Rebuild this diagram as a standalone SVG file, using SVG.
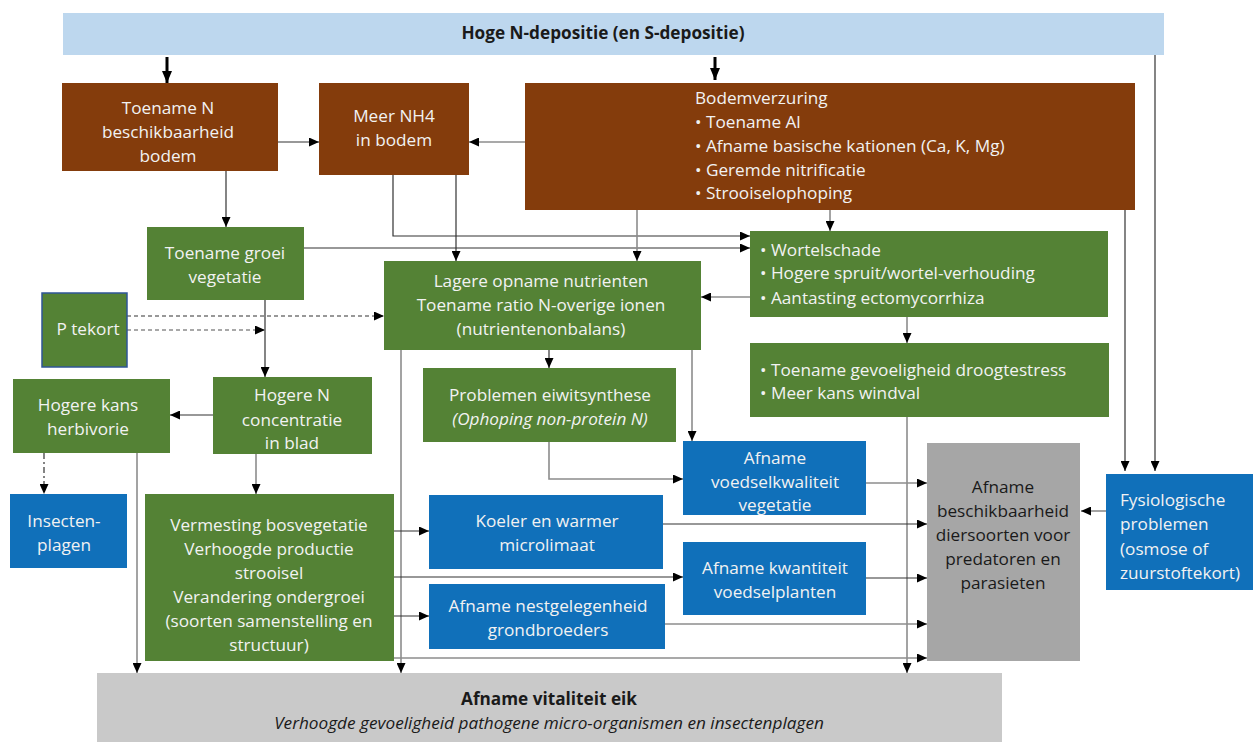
<svg xmlns="http://www.w3.org/2000/svg" width="1253" height="742" viewBox="0 0 1253 742">
<style>
text{font-family:"Open Sans","Noto Sans","Liberation Sans",sans-serif;font-size:17.2px}
.w{fill:#F2F2F2}
.d{fill:#1a1a1a}
.c{text-anchor:middle}
.b{font-weight:bold}
.i{font-style:italic}
.brown{fill:#843C0C}
.green{fill:#548235}
.blue{fill:#1070BA}
.k{fill:none;stroke:#333;stroke-width:1.2}
.g{fill:none;stroke:#8C8C8C;stroke-width:1.6}
.thick{fill:none;stroke:#000;stroke-width:3}
</style>
<defs>
<marker id="a" markerUnits="userSpaceOnUse" markerWidth="10" markerHeight="9" refX="10" refY="4.5" orient="auto"><path d="M0,0 L10,4.5 L0,9 z" fill="#000"/></marker>
<marker id="at" markerUnits="userSpaceOnUse" markerWidth="12" markerHeight="10" refX="12" refY="5" orient="auto"><path d="M0,0 L12,5 L0,10 z" fill="#000"/></marker>
</defs>
<rect width="1253" height="742" fill="#fff"/>

<g id="connectors">
<path class="thick" d="M167,57 V83" marker-end="url(#at)"/>
<path class="thick" d="M715,57 V80" marker-end="url(#at)"/>
<path class="k" d="M278,142 H319" marker-end="url(#a)"/>
<path class="g" d="M525,142 H469" marker-end="url(#a)"/>
<path class="k" d="M226,171 V227" marker-end="url(#a)"/>
<path class="k" d="M393,175 V236 H750" marker-end="url(#a)"/>
<path class="k" d="M456,175 V261" marker-end="url(#a)"/>
<path class="k" d="M304,248 H750" marker-end="url(#a)"/>
<path class="g" d="M637,210 V261" marker-end="url(#a)"/>
<path class="g" d="M830,210 V231" marker-end="url(#a)"/>
<path class="k" d="M1125,210 V471" marker-end="url(#a)"/>
<path class="k" d="M1155,55 V471" marker-end="url(#a)"/>
<path class="g" d="M750,297 H701" marker-end="url(#a)"/>
<path class="g" d="M907,317 V343" marker-end="url(#a)"/>
<path class="g" d="M907,417 V673" marker-end="url(#a)"/>
<path class="k" d="M127,316 H384" stroke-dasharray="4,3" marker-end="url(#a)"/>
<path class="g" d="M127,330 H265" stroke-dasharray="4,3" marker-end="url(#a)"/>
<path class="k" d="M265,300 V377" marker-end="url(#a)"/>
<path class="k" d="M213,415 H170" marker-end="url(#a)"/>
<path class="k" d="M44,453 V494" stroke-dasharray="6,3,2,3" marker-end="url(#a)"/>
<path class="g" d="M137,453 V673" marker-end="url(#a)"/>
<path class="g" d="M256,454 V494" marker-end="url(#a)"/>
<path class="g" d="M401,350 V673" marker-end="url(#a)"/>
<path class="k" d="M549,350 V368" marker-end="url(#a)"/>
<path class="g" d="M692,350 V441" marker-end="url(#a)"/>
<path class="g" d="M549,442 V479 H683" marker-end="url(#a)"/>
<path class="g" d="M866,483 H927" marker-end="url(#a)"/>
<path class="g" d="M1106,511 H1081" marker-end="url(#a)"/>
<path class="k" d="M394,531 H429" marker-end="url(#a)"/>
<path class="k" d="M663,524 H927" marker-end="url(#a)"/>
<path class="k" d="M394,577 H683" marker-end="url(#a)"/>
<path class="k" d="M866,578 H927" marker-end="url(#a)"/>
<path class="k" d="M394,616 H429" marker-end="url(#a)"/>
<path class="g" d="M665,624 H927" marker-end="url(#a)"/>
<path class="g" d="M394,658 H927" marker-end="url(#a)"/>
</g>

<g id="n-depositie">
<rect x="63" y="13" width="1101" height="42" fill="#BDD7EE"/>
<text class="d c b" x="603" y="39">Hoge N-depositie (en S-depositie)</text>
</g>

<g id="n-beschikbaarheid">
<rect class="brown" x="62" y="83" width="216" height="88"/>
<text class="w c" x="168" y="114">Toename N</text>
<text class="w c" x="168" y="138">beschikbaarheid</text>
<text class="w c" x="168" y="162">bodem</text>
</g>

<g id="nh4">
<rect class="brown" x="319" y="83" width="150" height="92"/>
<text class="w c" x="394" y="122">Meer NH4</text>
<text class="w c" x="394" y="146">in bodem</text>
</g>

<g id="bodemverzuring">
<rect class="brown" x="525" y="83" width="610" height="127"/>
<text class="w" x="695" y="104">Bodemverzuring</text>
<text class="w" x="695" y="128">• Toename Al</text>
<text class="w" x="695" y="152">• Afname basische kationen (Ca, K, Mg)</text>
<text class="w" x="695" y="176">• Geremde nitrificatie</text>
<text class="w" x="695" y="199">• Strooiselophoping</text>
</g>

<g id="groei">
<rect class="green" x="147" y="227" width="157" height="73"/>
<text class="w c" x="225" y="259">Toename groei</text>
<text class="w c" x="225" y="283">vegetatie</text>
</g>

<g id="lagere-opname">
<rect class="green" x="384" y="261" width="317" height="89"/>
<text class="w c" x="541" y="287">Lagere opname nutrienten</text>
<text class="w c" x="541" y="311">Toename ratio N-overige ionen</text>
<text class="w c" x="541" y="335">(nutrientenonbalans)</text>
</g>

<g id="wortelschade">
<rect class="green" x="750" y="231" width="358" height="86"/>
<text class="w" x="760" y="256">• Wortelschade</text>
<text class="w" x="760" y="279">• Hogere spruit/wortel-verhouding</text>
<text class="w" x="760" y="304">• Aantasting ectomycorrhiza</text>
</g>

<g id="droogtestress">
<rect class="green" x="750" y="343" width="359" height="74"/>
<text class="w" x="760" y="376">• Toename gevoeligheid droogtestress</text>
<text class="w" x="760" y="399">• Meer kans windval</text>
</g>

<g id="p-tekort">
<rect class="green" x="42" y="293" width="85" height="74" stroke="#2F5597" stroke-width="1.5"/>
<text class="w c" x="88" y="335">P tekort</text>
</g>

<g id="hogere-n">
<rect class="green" x="213" y="377" width="159" height="77"/>
<text class="w c" x="292" y="401">Hogere N</text>
<text class="w c" x="292" y="426">concentratie</text>
<text class="w c" x="292" y="449">in blad</text>
</g>

<g id="herbivorie">
<rect class="green" x="13" y="379" width="157" height="74"/>
<text class="w c" x="88" y="411">Hogere kans</text>
<text class="w c" x="88" y="435">herbivorie</text>
</g>

<g id="eiwitsynthese">
<rect class="green" x="423" y="368" width="253" height="74"/>
<text class="w c" x="550" y="401">Problemen eiwitsynthese</text>
<text class="w c i" x="550" y="425">(Ophoping non-protein N)</text>
</g>

<g id="insectenplagen">
<rect class="blue" x="10" y="494" width="117" height="74"/>
<text class="w c" x="64" y="527">Insecten-</text>
<text class="w c" x="64" y="551">plagen</text>
</g>

<g id="vermesting">
<rect class="green" x="145" y="494" width="249" height="167"/>
<text class="w c" x="269" y="531">Vermesting bosvegetatie</text>
<text class="w c" x="269" y="555">Verhoogde productie</text>
<text class="w c" x="269" y="579">strooisel</text>
<text class="w c" x="269" y="603">Verandering ondergroei</text>
<text class="w c" x="269" y="627">(soorten samenstelling en</text>
<text class="w c" x="269" y="651">structuur)</text>
</g>

<g id="voedselkwaliteit">
<rect class="blue" x="683" y="441" width="183" height="74"/>
<text class="w c" x="775" y="464">Afname</text>
<text class="w c" x="775" y="488">voedselkwaliteit</text>
<text class="w c" x="775" y="511">vegetatie</text>
</g>

<g id="microklimaat">
<rect class="blue" x="429" y="495" width="234" height="74"/>
<text class="w c" x="547" y="527">Koeler en warmer</text>
<text class="w c" x="547" y="551">microlimaat</text>
</g>

<g id="voedselplanten">
<rect class="blue" x="683" y="542" width="183" height="73"/>
<text class="w c" x="775" y="574">Afname kwantiteit</text>
<text class="w c" x="775" y="598">voedselplanten</text>
</g>

<g id="nestgelegenheid">
<rect class="blue" x="429" y="584" width="236" height="65"/>
<text class="w c" x="548" y="612">Afname nestgelegenheid</text>
<text class="w c" x="548" y="636">grondbroeders</text>
</g>

<g id="beschikbaarheid-diersoorten">
<rect x="927" y="443" width="153" height="218" fill="#A6A6A6"/>
<text class="d c" x="1003" y="493">Afname</text>
<text class="d c" x="1003" y="517">beschikbaarheid</text>
<text class="d c" x="1003" y="541">diersoorten voor</text>
<text class="d c" x="1003" y="565">predatoren en</text>
<text class="d c" x="1003" y="589">parasieten</text>
</g>

<g id="fysiologische">
<rect class="blue" x="1106" y="474" width="147" height="116"/>
<text class="w" x="1120" y="506">Fysiologische</text>
<text class="w" x="1120" y="530">problemen</text>
<text class="w" x="1120" y="555">(osmose of</text>
<text class="w" x="1120" y="579">zuurstoftekort)</text>
</g>

<g id="vitaliteit">
<rect x="97" y="673" width="905" height="69" fill="#C9C9C9"/>
<text class="d c b" x="549" y="705">Afname vitaliteit eik</text>
<text class="d c i" x="549" y="729">Verhoogde gevoeligheid pathogene micro-organismen en insectenplagen</text>
</g>
</svg>
